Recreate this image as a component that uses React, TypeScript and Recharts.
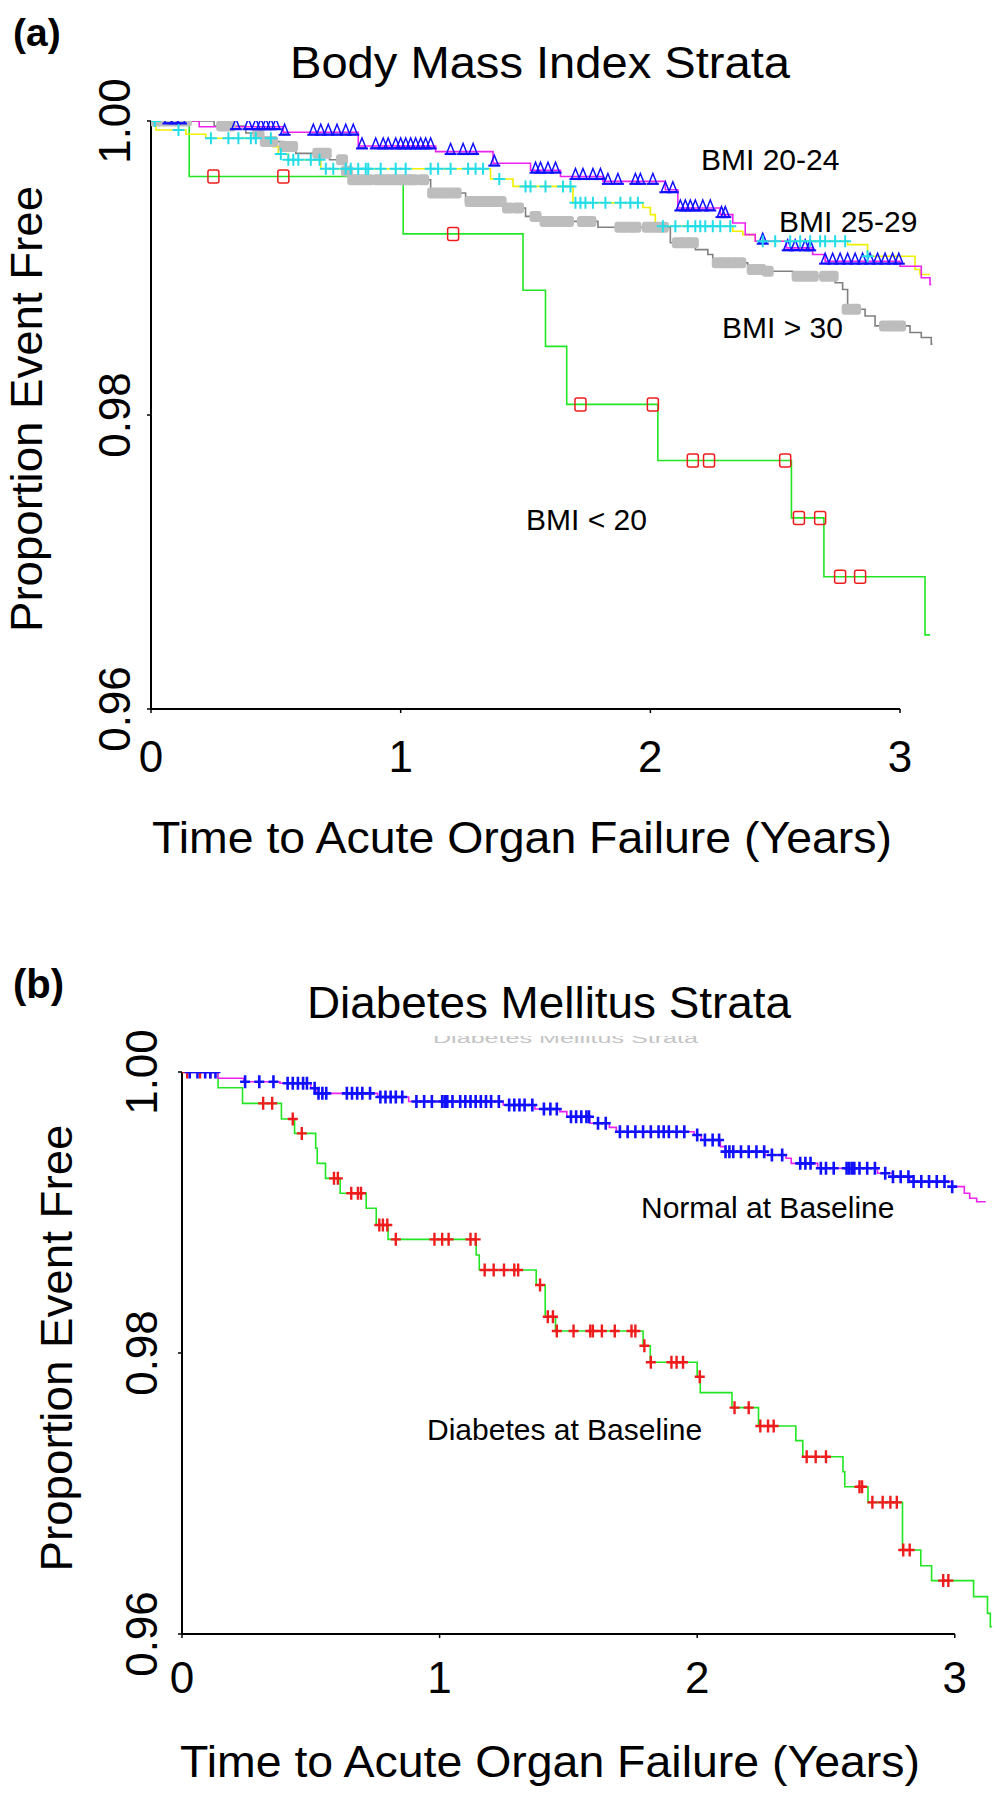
import { ComposedChart, Line, Scatter, XAxis, YAxis, ReferenceLine } from "recharts";

// ---- (a) Body Mass Index strata: step times / survival / censor times ----
const bmiUnder20Times = [0, 0.153, 1.01, 1.49, 1.58, 1.665, 2.03, 2.565, 2.695, 3.1, 3.12];
const bmiUnder20Surv = [1, 0.99622, 0.99232, 0.98849, 0.98467, 0.98072, 0.9769, 0.973, 0.969, 0.96504, 0.96504];
const bmiUnder20Censor = [0.25, 0.53, 1.21, 1.72, 2.01, 2.17, 2.235, 2.54, 2.595, 2.68, 2.76, 2.84];

const bmi2024Times = [0, 0.193, 0.53, 0.83, 1.14, 1.37, 1.52, 1.64, 1.81, 2.06, 2.11, 2.28, 2.33, 2.38, 2.42, 2.545, 2.65, 2.7, 3.0, 3.085, 3.12, 3.125];
const bmi2024Surv = [1, 0.99961, 0.99923, 0.9983, 0.99792, 0.99713, 0.99665, 0.99622, 0.99589, 0.99532, 0.99408, 0.99363, 0.99306, 0.99227, 0.99182, 0.99137, 0.99092, 0.99046, 0.99012, 0.98934, 0.98888, 0.98888];
const bmi2024Censor = [
  0.07, 0.095, 0.12, 0.34, 0.39, 0.42, 0.44, 0.46, 0.48, 0.5, 0.535, 0.65, 0.68, 0.71, 0.745, 0.78, 0.81, 0.845,
  0.9, 0.93, 0.95, 0.98, 1.0, 1.02, 1.04, 1.06, 1.08, 1.1, 1.12, 1.2, 1.25, 1.29, 1.375, 1.54, 1.56, 1.59, 1.62,
  1.7, 1.73, 1.77, 1.8, 1.83, 1.87, 1.94, 1.96, 2.01, 2.06, 2.09, 2.12, 2.14, 2.16, 2.18, 2.21, 2.24, 2.285, 2.3,
  2.45, 2.55, 2.58, 2.62, 2.64, 2.7, 2.73, 2.76, 2.79, 2.82, 2.85, 2.88, 2.91, 2.94, 2.97, 2.995,
];

const bmi2529Times = [0, 0.02, 0.14, 0.22, 0.49, 0.51, 0.55, 0.68, 1.36, 1.45, 1.69, 1.97, 2.0, 2.02, 2.33, 2.37, 2.42, 2.79, 2.87, 3.06, 3.08, 3.12];
const bmi2529Surv = [1, 0.99939, 0.9991, 0.99883, 0.99826, 0.99776, 0.99736, 0.99675, 0.99605, 0.99555, 0.99444, 0.99412, 0.99363, 0.99284, 0.9925, 0.99227, 0.99182, 0.99159, 0.9908, 0.9899, 0.98956, 0.98956];
const bmi2529Censor = [
  0.015, 0.11, 0.24, 0.31, 0.35, 0.4, 0.42, 0.48, 0.52, 0.55, 0.57, 0.59, 0.64, 0.675, 0.7, 0.73, 0.78, 0.8, 0.83,
  0.86, 0.87, 0.92, 0.98, 1.02, 1.12, 1.15, 1.2, 1.27, 1.3, 1.33, 1.395, 1.5, 1.52, 1.58, 1.65, 1.68, 1.7, 1.72,
  1.74, 1.77, 1.82, 1.88, 1.92, 1.95, 2.05, 2.1, 2.15, 2.18, 2.2, 2.22, 2.25, 2.28, 2.32, 2.45, 2.5, 2.56, 2.6,
  2.64, 2.68, 2.7, 2.74, 2.78, 2.87,
];

const bmiOver30Times = [0, 0.253, 0.38, 0.45, 0.53, 0.58, 0.715, 0.78, 0.8, 1.12, 1.26, 1.41, 1.5, 1.56, 1.79, 2.08, 2.18, 2.23, 2.25, 2.39, 2.47, 2.57, 2.74, 2.77, 2.79, 2.86, 2.9, 3.04, 3.085, 3.125, 3.13];
const bmiOver30Surv = [1, 0.99966, 0.99918, 0.9986, 0.99826, 0.9978, 0.99736, 0.9966, 0.996, 0.9951, 0.99453, 0.99408, 0.99351, 0.99317, 0.99277, 0.99172, 0.99125, 0.99092, 0.99035, 0.9899, 0.98978, 0.98944, 0.989, 0.98854, 0.98719, 0.98673, 0.98606, 0.98561, 0.98527, 0.98482, 0.98482];
const bmiOver30Censor = [
  0.02, 0.05, 0.08, 0.11, 0.14, 0.285, 0.315, 0.43, 0.46, 0.485, 0.535, 0.565, 0.67, 0.7, 0.765, 0.785, 0.81, 0.84,
  0.87, 0.91, 0.94, 0.97, 1.0, 1.03, 1.05, 1.09, 1.13, 1.16, 1.19, 1.22, 1.28, 1.31, 1.34, 1.37, 1.4, 1.43, 1.47,
  1.54, 1.58, 1.61, 1.64, 1.67, 1.73, 1.76, 1.88, 1.91, 1.94, 1.99, 2.02, 2.05, 2.11, 2.14, 2.17, 2.27, 2.3, 2.33,
  2.36, 2.41, 2.44, 2.47, 2.59, 2.62, 2.65, 2.7, 2.73, 2.79, 2.82, 2.94, 2.97, 3.0,
];

// ---- (b) Diabetes mellitus strata ----
const normalTimes = [0, 0.14, 0.24, 0.38, 0.5, 0.52, 0.76, 0.88, 1.247, 1.37, 1.467, 1.494, 1.583, 1.659, 1.686, 1.988, 2.016, 2.09, 2.11, 2.262, 2.345, 2.365, 2.468, 2.7, 2.76, 2.825, 2.99, 3.037, 3.058, 3.085, 3.12];
const normalSurv = [1, 0.99955, 0.99931, 0.9992, 0.99884, 0.99848, 0.99822, 0.9979, 0.99765, 0.99737, 0.99718, 0.99682, 0.99635, 0.99606, 0.99575, 0.99552, 0.99516, 0.99469, 0.99433, 0.99409, 0.99386, 0.9935, 0.99315, 0.99279, 0.99255, 0.9922, 0.99184, 0.99137, 0.99101, 0.99077, 0.99077];
const normalCensor = [
  0.03, 0.06, 0.09, 0.11, 0.13, 0.245, 0.3, 0.355, 0.41, 0.43, 0.45, 0.47, 0.485, 0.515, 0.53, 0.545, 0.56, 0.64,
  0.66, 0.68, 0.7, 0.73, 0.77, 0.79, 0.81, 0.83, 0.855, 0.91, 0.94, 0.97, 1.01, 1.02, 1.03, 1.05, 1.08, 1.1, 1.12,
  1.14, 1.16, 1.18, 1.2, 1.23, 1.27, 1.29, 1.31, 1.33, 1.36, 1.405, 1.43, 1.455, 1.51, 1.53, 1.55, 1.57, 1.58,
  1.615, 1.645, 1.7, 1.73, 1.76, 1.79, 1.82, 1.85, 1.87, 1.89, 1.92, 1.95, 2.0, 2.03, 2.06, 2.085, 2.11, 2.125,
  2.14, 2.17, 2.2, 2.23, 2.26, 2.29, 2.33, 2.4, 2.42, 2.44, 2.48, 2.5, 2.53, 2.58, 2.59, 2.6, 2.61, 2.63, 2.66,
  2.69, 2.73, 2.76, 2.79, 2.82, 2.84, 2.87, 2.9, 2.93, 2.96, 2.99,
];

const diabetesTimes = [0, 0.14, 0.235, 0.386, 0.437, 0.519, 0.525, 0.557, 0.614, 0.715, 0.754, 0.8, 1.142, 1.154, 1.375, 1.41, 1.45, 1.79, 1.818, 2.0, 2.012, 2.135, 2.238, 2.383, 2.41, 2.566, 2.573, 2.663, 2.797, 2.868, 2.91, 3.073, 3.127, 3.138, 3.145];
const diabetesSurv = [1, 0.99888, 0.99777, 0.99665, 0.99563, 0.99457, 0.9935, 0.99243, 0.99137, 0.9903, 0.98911, 0.98809, 0.98698, 0.98591, 0.98484, 0.98258, 0.98157, 0.98052, 0.97934, 0.97831, 0.97718, 0.97611, 0.9748, 0.97376, 0.97262, 0.97155, 0.97048, 0.96937, 0.96598, 0.96486, 0.9638, 0.96266, 0.96147, 0.96052, 0.96052];
const diabetesCensor = [
  0.02, 0.07, 0.11, 0.315, 0.35, 0.43, 0.465, 0.59, 0.605, 0.657, 0.683, 0.695, 0.766, 0.78, 0.797, 0.83, 0.98,
  1.01, 1.035, 1.12, 1.14, 1.175, 1.21, 1.25, 1.29, 1.305, 1.39, 1.42, 1.44, 1.455, 1.52, 1.585, 1.595, 1.63, 1.68,
  1.745, 1.76, 1.795, 1.82, 1.9, 1.92, 1.945, 2.01, 2.145, 2.2, 2.245, 2.275, 2.297, 2.425, 2.46, 2.5, 2.63, 2.64,
  2.68, 2.72, 2.75, 2.775, 2.8, 2.825, 2.955, 2.975,
];

const xTicks = [0, 1, 2, 3];
const yTicks = [0.96, 0.98, 1.0];

const FONT = "'Liberation Sans', Arial, Helvetica, sans-serif";
const RED = "#ee1c1c";
const BLUE = "#1010ff";
const GREEN = "#22e622";
const MAGENTA = "#ee22ee";

type Pt = { t: number; s: number };

const steps = (times: number[], surv: number[]): Pt[] => times.map((t, i) => ({ t, s: surv[i] }));

// place a censor mark on the curve at time t
const censored = (times: number[], surv: number[], marks: number[]): Pt[] =>
  marks.map((t) => {
    let s = surv[0];
    times.forEach((tt, i) => {
      if (tt <= t) s = surv[i];
    });
    return { t, s };
  });

const OpenSquare = ({ cx, cy }: any) => (
  <rect x={cx - 5.5} y={cy - 6.5} width={11} height={13} rx={2} fill="none" stroke={RED} strokeWidth={1.5} />
);

const Triangle = ({ cx, cy }: any) => (
  <g>
    <path d={`M${cx - 4},${cy + 2} L${cx},${cy - 8} L${cx + 4},${cy + 2} Z`} fill="none" stroke={BLUE} strokeWidth={1.5} />
    <path d={`M${cx - 6},${cy + 2.5} H${cx + 6}`} stroke={BLUE} strokeWidth={2} />
  </g>
);

const plus = (color: string, w: number, h: number, sw: number) => ({ cx, cy }: any) => (
  <path d={`M${cx - w},${cy} H${cx + w} M${cx},${cy - h} V${cy + h}`} stroke={color} strokeWidth={sw} fill="none" />
);

const Blob = ({ cx, cy }: any) => <rect x={cx - 6} y={cy - 5.5} width={12} height={11} rx={3} fill="#bdbdbd" />;

const YTick = ({ x, y, payload }: any) => (
  <text x={x} y={y} transform={`rotate(-90, ${x}, ${y})`} textAnchor="middle" fontSize={44} fontFamily={FONT} fill="#000">
    {Number(payload.value).toFixed(2)}
  </text>
);

const XTick = ({ x, y, payload }: any) => (
  <text x={x} y={y} textAnchor="middle" fontSize={44} fontFamily={FONT} fill="#000">
    {payload.value}
  </text>
);

const lineProps = {
  type: "stepAfter" as const,
  dataKey: "s",
  dot: false,
  activeDot: false,
  strokeWidth: 1.6,
  isAnimationActive: false,
};

function PanelA() {
  return (
    <ComposedChart width={1004} height={900} margin={{ top: 121, right: 64, bottom: 91, left: 0 }}>
      <XAxis
        type="number"
        dataKey="t"
        domain={[0, 3.16]}
        ticks={xTicks}
        allowDataOverflow
        axisLine={false}
        tickLine={{ stroke: "#000", strokeWidth: 1.5 }}
        tickSize={4}
        tickMargin={59}
        height={100}
        tick={<XTick />}
      />
      <YAxis
        type="number"
        dataKey="s"
        domain={[0.96, 1]}
        ticks={yTicks}
        allowDataOverflow
        width={151}
        axisLine={{ stroke: "#000", strokeWidth: 2 }}
        tickLine={{ stroke: "#000", strokeWidth: 1.5 }}
        tickSize={4}
        tickMargin={17}
        tick={<YTick />}
      />
      <ReferenceLine segment={[{ x: 0, y: 0.96 }, { x: 3, y: 0.96 }]} stroke="#000" strokeWidth={2} />
      <Line {...lineProps} data={steps(bmiOver30Times, bmiOver30Surv)} stroke="#808080" />
      <Scatter data={censored(bmiOver30Times, bmiOver30Surv, bmiOver30Censor)} dataKey="s" shape={<Blob />} isAnimationActive={false} />
      <Line {...lineProps} data={steps(bmiUnder20Times, bmiUnder20Surv)} stroke={GREEN} />
      <Scatter data={censored(bmiUnder20Times, bmiUnder20Surv, bmiUnder20Censor)} dataKey="s" shape={<OpenSquare />} isAnimationActive={false} />
      <Line {...lineProps} data={steps(bmi2529Times, bmi2529Surv)} stroke="#f0f000" />
      <Line {...lineProps} data={steps(bmi2024Times, bmi2024Surv)} stroke={MAGENTA} />
      <Scatter data={censored(bmi2024Times, bmi2024Surv, bmi2024Censor)} dataKey="s" shape={<Triangle />} isAnimationActive={false} />
      <Scatter data={censored(bmi2529Times, bmi2529Surv, bmi2529Censor)} dataKey="s" shape={plus("#22dde8", 6, 6, 2)} isAnimationActive={false} />
    </ComposedChart>
  );
}

function PanelB() {
  return (
    <ComposedChart width={1004} height={857} margin={{ top: 122, right: 8, bottom: 73, left: 0 }}>
      <XAxis
        type="number"
        dataKey="t"
        domain={[0, 3.16]}
        ticks={xTicks}
        allowDataOverflow
        axisLine={false}
        tickLine={{ stroke: "#000", strokeWidth: 1.5 }}
        tickSize={4}
        tickMargin={55}
        height={100}
        tick={<XTick />}
      />
      <YAxis
        type="number"
        dataKey="s"
        domain={[0.96, 1]}
        ticks={yTicks}
        allowDataOverflow
        width={182}
        axisLine={{ stroke: "#000", strokeWidth: 2 }}
        tickLine={{ stroke: "#000", strokeWidth: 1.5 }}
        tickSize={4}
        tickMargin={21}
        tick={<YTick />}
      />
      <ReferenceLine segment={[{ x: 0, y: 0.96 }, { x: 3, y: 0.96 }]} stroke="#000" strokeWidth={2} />
      <Line {...lineProps} data={steps(diabetesTimes, diabetesSurv)} stroke={GREEN} />
      <Scatter data={censored(diabetesTimes, diabetesSurv, diabetesCensor)} dataKey="s" shape={plus(RED, 5, 6.5, 2.4)} isAnimationActive={false} />
      <Line {...lineProps} data={steps(normalTimes, normalSurv)} stroke={MAGENTA} />
      <Scatter data={censored(normalTimes, normalSurv, normalCensor)} dataKey="s" shape={plus(BLUE, 5, 6.5, 2.6)} isAnimationActive={false} />
    </ComposedChart>
  );
}

const T = (p: any) => <text fontFamily={FONT} fill="#000" {...p} />;

export default function App() {
  return (
    <div style={{ position: "absolute", left: 0, top: 0, width: 1004, height: 1807, background: "#fff", overflow: "hidden" }}>
      <div style={{ position: "absolute", left: 0, top: 0 }}>
        <PanelA />
      </div>
      <div style={{ position: "absolute", left: 0, top: 950 }}>
        <PanelB />
      </div>
      <svg width={1004} height={1807} style={{ position: "absolute", left: 0, top: 0, pointerEvents: "none" }}>
        <defs>
          <clipPath id="ghost">
            <rect x={420} y={1036} width={300} height={7} />
          </clipPath>
        </defs>
        {/* panel (a) */}
        <T x={13} y={46} fontSize={39} fontWeight="bold">(a)</T>
        <T x={290} y={78} fontSize={44} textLength={500} lengthAdjust="spacingAndGlyphs">Body Mass Index Strata</T>
        <T x={42} y={409} fontSize={44} textAnchor="middle" transform="rotate(-90, 42, 409)" textLength={446} lengthAdjust="spacingAndGlyphs">
          Proportion Event Free
        </T>
        <T x={152} y={853} fontSize={44} textLength={740} lengthAdjust="spacingAndGlyphs">Time to Acute Organ Failure (Years)</T>
        <T x={701} y={170} fontSize={30}>BMI 20-24</T>
        <T x={779} y={232} fontSize={30}>BMI 25-29</T>
        <T x={722} y={338} fontSize={30}>{"BMI > 30"}</T>
        <T x={526} y={530} fontSize={30}>{"BMI < 20"}</T>
        {/* panel (b) */}
        <T x={13} y={998} fontSize={40} fontWeight="bold">(b)</T>
        <T x={307} y={1018} fontSize={44} textLength={484} lengthAdjust="spacingAndGlyphs">Diabetes Mellitus Strata</T>
        <T x={433} y={1043} fontSize={14} fill="#c4c4c4" clipPath="url(#ghost)" textLength={265} lengthAdjust="spacingAndGlyphs">
          Diabetes Mellitus Strata
        </T>
        <T x={72} y={1348} fontSize={44} textAnchor="middle" transform="rotate(-90, 72, 1348)" textLength={447} lengthAdjust="spacingAndGlyphs">
          Proportion Event Free
        </T>
        <T x={180} y={1777} fontSize={44} textLength={740} lengthAdjust="spacingAndGlyphs">Time to Acute Organ Failure (Years)</T>
        <T x={641} y={1218} fontSize={30}>Normal at Baseline</T>
        <T x={427} y={1440} fontSize={30}>Diabetes at Baseline</T>
      </svg>
    </div>
  );
}
